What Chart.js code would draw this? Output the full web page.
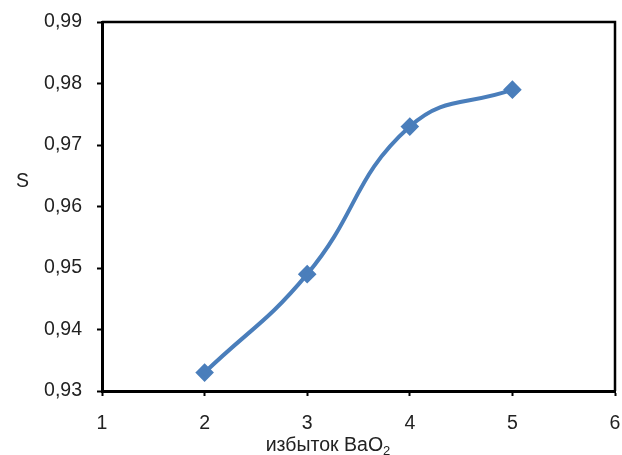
<!DOCTYPE html>
<html><head><meta charset="utf-8">
<script src="https://cdn.jsdelivr.net/npm/chart.js@4/dist/chart.umd.min.js"></script>
<style>html,body{margin:0;padding:0;background:#fff;overflow:hidden}canvas{display:block}</style>
</head><body><canvas id="c" width="622" height="455"></canvas>
<script>
const xValues = [2, 3, 4, 5];
const sValues = [0.933, 0.949, 0.973, 0.979];
const xTicks = [1, 2, 3, 4, 5, 6];
const yTicks = [0.93, 0.94, 0.95, 0.96, 0.97, 0.98, 0.99];
const xTitle = 'избыток BaO';
const xTitleSub = '2';
const yTitle = 'S';

const FONT = '"Liberation Sans", Arial, sans-serif';
const TXT = '#222';
const FS = 19.5;

const framePlugin = {
  id: 'frame',
  afterDraw(chart) {
    const {ctx, chartArea: a} = chart;
    ctx.save();
    ctx.strokeStyle = '#000';
    ctx.lineWidth = 2.5;
    ctx.beginPath();
    ctx.moveTo(a.left, a.top); ctx.lineTo(a.right, a.top); ctx.lineTo(a.right, a.bottom);
    ctx.stroke();
    ctx.fillStyle = TXT;
    ctx.font = FS + 'px ' + FONT;
    ctx.textBaseline = 'alphabetic';
    ctx.textAlign = 'left';
    const w1 = ctx.measureText(xTitle).width;
    ctx.font = '13px ' + FONT;
    const w2 = ctx.measureText(xTitleSub).width;
    const x0 = 328 - (w1 + w2) / 2;
    ctx.font = FS + 'px ' + FONT;
    ctx.fillText(xTitle, x0, 451);
    ctx.font = '13px ' + FONT;
    ctx.fillText(xTitleSub, x0 + w1, 455);
    ctx.font = FS + 'px ' + FONT;
    ctx.textAlign = 'center';
    ctx.fillText(yTitle, 22.5, 187);
    ctx.restore();
  }
};

new Chart(document.getElementById('c'), {
  type: 'line',
  data: {
    datasets: [{
      data: xValues.map((x, i) => ({x, y: sValues[i]})),
      borderColor: '#4a7ebb',
      backgroundColor: '#4a7ebb',
      borderWidth: 4,
      pointStyle: 'rectRot',
      pointRadius: 6.5,
      pointHoverRadius: 6.5,
      tension: 0.45,
      fill: false
    }]
  },
  options: {
    responsive: false,
    animation: false,
    devicePixelRatio: 1,
    layout: {autoPadding: false, padding: {left: 0, top: 22, right: 7, bottom: 0}},
    plugins: {legend: {display: false}, tooltip: {enabled: false}},
    scales: {
      x: {
        type: 'linear', min: 1, max: 6,
        afterBuildTicks: s => { s.ticks = xTicks.map(v => ({value: v})); },
        afterFit: s => { s.height = 64; s.paddingLeft = 0; s.paddingRight = 0; },
        grid: {display: true, drawOnChartArea: false, drawTicks: true, tickLength: 5, color: '#000', tickWidth: 2},
        border: {display: true, color: '#000', width: 3},
        ticks: {color: TXT, font: {family: FONT, size: FS}, padding: 16, maxRotation: 0, callback: v => String(v)}
      },
      y: {
        type: 'linear', min: 0.93, max: 0.99,
        afterBuildTicks: s => { s.ticks = yTicks.map(v => ({value: v})); },
        afterFit: s => { s.width = 102; s.paddingTop = 0; s.paddingBottom = 0; },
        grid: {display: true, drawOnChartArea: false, drawTicks: true, tickLength: 5, color: '#000', tickWidth: 2},
        border: {display: true, color: '#000', width: 3},
        ticks: {color: TXT, font: {family: FONT, size: FS}, padding: 15, callback: v => v.toFixed(2).replace('.', ',')}
      }
    }
  },
  plugins: [framePlugin]
});
</script>
</body></html>
